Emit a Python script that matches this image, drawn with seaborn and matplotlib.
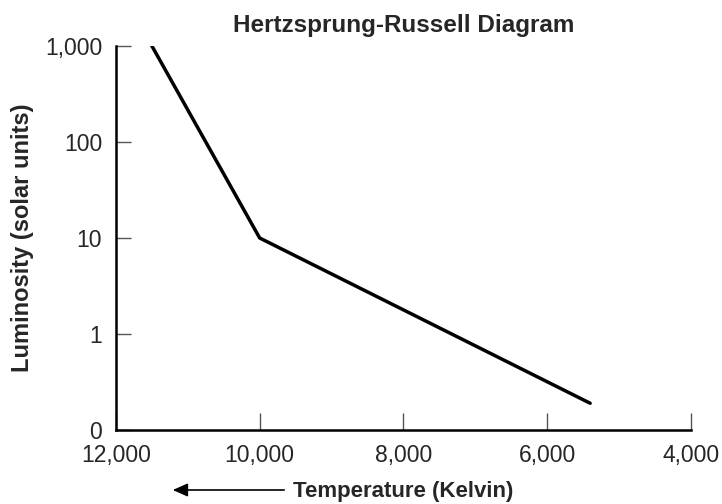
import matplotlib
matplotlib.use("Agg")
import matplotlib.pyplot as plt
import seaborn as sns

temperatura = [11500, 10000, 5400]
luminosidad = [1000, 10, 0.19]

y_ticks = [0.1, 1, 10, 100, 1000]
y_labels = ["0", "1", "10", "100", "1,000"]
x_ticks = [12000, 10000, 8000, 6000, 4000]
x_labels = ["12,000", "10,000", "8,000", "6,000", "4,000"]

sns.set_style("ticks")
plt.rcParams["font.family"] = ["Liberation Sans", "DejaVu Sans"]

fig = plt.figure(figsize=(7.22, 5.04), dpi=100)
ax = fig.add_axes([116 / 722, 1 - 430 / 504, (690.7 - 116) / 722, (430 - 46) / 504])

sns.lineplot(x=temperatura, y=luminosidad, ax=ax, color="black", linewidth=2.5)

ax.set_yscale("log")
ax.set_ylim(0.1, 1000)
ax.set_xlim(12000, 4000)
ax.set_yticks(y_ticks)
ax.set_yticklabels(y_labels)
ax.set_xticks(x_ticks)
ax.set_xticklabels(x_labels)
ax.minorticks_off()

ax.tick_params(axis="both", direction="in", labelsize=16.5, width=1, color="#555555")
ax.tick_params(axis="x", length=12.5, pad=10)
ax.tick_params(axis="y", length=11, pad=10)

sns.despine(ax=ax)
for s in ["left", "bottom"]:
    ax.spines[s].set_linewidth(1.8)
    ax.spines[s].set_color("black")

ax.set_title("Hertzsprung-Russell Diagram", fontsize=17.5, fontweight="bold", pad=10)
ax.set_xlabel("Temperature (Kelvin)", fontsize=16, fontweight="bold", labelpad=10)
ax.set_ylabel("Luminosity (solar units)", fontsize=17, fontweight="bold", labelpad=8)

# Flecha junto al titulo del eje x
ax.annotate("", xy=(170 / 722, 1 - 490 / 504), xytext=(287 / 722, 1 - 490 / 504),
            xycoords="figure fraction", textcoords="figure fraction",
            arrowprops=dict(arrowstyle="-|>,head_length=0.9,head_width=0.4", color="black", lw=1.2))

fig.savefig("out.png", dpi=100)
